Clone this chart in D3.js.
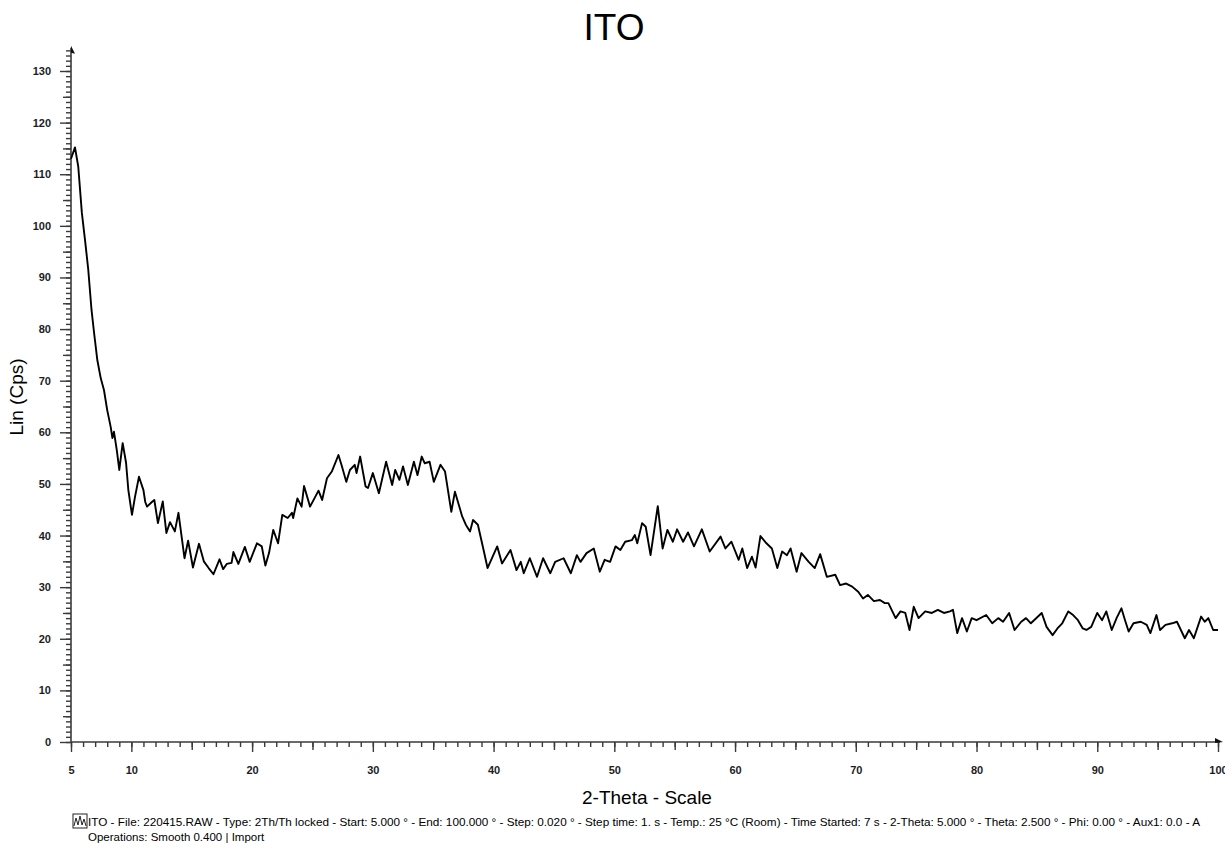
<!DOCTYPE html>
<html>
<head>
<meta charset="utf-8">
<script src="https://cdn.jsdelivr.net/npm/d3@7"></script>
<style>
  body { margin: 0; background: #fff; }
  svg { display: block; font-family: 'Liberation Sans', Arial, sans-serif; }
</style>
</head>
<body>
<svg width="1225" height="843"></svg>
<script>
// diffraction scan
const twoTheta = [
  5.0, 5.33, 5.6, 5.9, 6.16, 6.43, 6.7, 6.93, 7.18, 7.46, 7.73, 8.0, 8.29, 8.43, 8.56, 8.79,
  9.0, 9.28, 9.56, 9.75, 10.05, 10.3, 10.63, 11.0, 11.15, 11.3, 11.7, 11.9, 12.2, 12.6, 12.9,
  13.2, 13.6, 13.9, 14.4, 14.7, 15.1, 15.6, 16.0, 16.4, 16.8, 17.3, 17.6, 17.9, 18.3, 18.45,
  18.86, 19.4, 19.8, 20.4, 20.8, 21.1, 21.4, 21.75, 22.15, 22.5, 22.95, 23.3, 23.4, 23.75,
  24.1, 24.3, 24.8, 25.5, 25.8, 26.2, 26.6, 27.15, 27.4, 27.8, 28.1, 28.5, 28.65, 28.95,
  29.4, 29.6, 30.0, 30.5, 31.1, 31.6, 31.85, 32.2, 32.5, 32.9, 33.4, 33.7, 34.05, 34.3,
  34.7, 35.05, 35.6, 35.98, 36.5, 36.8, 37.4, 37.7, 38.05, 38.3, 38.7, 39.2, 39.5, 40.3,
  40.7, 41.4, 41.9, 42.25, 42.5, 43.0, 43.6, 44.1, 44.7, 45.1, 45.8, 46.4, 46.9, 47.2,
  47.7, 48.3, 48.8, 49.2, 49.65, 50.1, 50.5, 50.9, 51.45, 51.7, 51.9, 52.3, 52.6, 53.0,
  53.6, 54.0, 54.4, 54.85, 55.2, 55.7, 56.1, 56.6, 57.25, 57.9, 58.8, 59.2, 59.7, 60.3,
  60.6, 61.0, 61.4, 61.7, 62.1, 62.6, 63.05, 63.5, 63.9, 64.3, 64.6, 65.1, 65.5, 66.1,
  66.6, 67.05, 67.6, 68.3, 68.7, 69.2, 69.7, 70.2, 70.6, 71.0, 71.5, 72.0, 72.4, 72.7,
  73.3, 73.7, 74.1, 74.45, 74.8, 75.2, 75.75, 76.3, 76.8, 77.3, 77.8, 78.05, 78.4, 78.8,
  79.2, 79.6, 80.0, 80.8, 81.3, 81.8, 82.2, 82.7, 83.15, 83.7, 84.1, 84.5, 85.4, 85.8,
  86.3, 86.7, 87.1, 87.6, 88.0, 88.4, 88.8, 89.1, 89.5, 90.0, 90.4, 90.75, 91.2, 91.6,
  92.0, 92.3, 92.6, 93.0, 93.6, 94.1, 94.4, 94.9, 95.2, 95.65, 96.2, 96.6, 97.25, 97.6,
  98.0, 98.6, 98.9, 99.2, 99.6, 100.0
];
const counts = [
  113.0, 115.2, 111.5, 102.5, 97.3, 91.5, 83.7, 78.9, 74.0, 70.5, 68.2, 64.3, 61.0, 58.9, 60.1, 56.6,
  52.7, 57.9, 54.1, 48.8, 44.0, 47.5, 51.4, 48.8, 46.5, 45.6, 46.5, 46.9, 42.4, 46.6, 40.5,
  42.6, 40.8, 44.4, 35.6, 39.0, 33.8, 38.4, 35.0, 33.7, 32.5, 35.4, 33.5, 34.5, 34.7, 36.8,
  34.5, 37.8, 34.9, 38.5, 37.9, 34.2, 36.6, 41.1, 38.5, 44.0, 43.4, 44.4, 43.4, 47.2,
  45.6, 49.6, 45.6, 48.7, 46.9, 51.1, 52.4, 55.6, 53.7, 50.4, 52.7, 53.7, 52.1, 55.3,
  49.5, 49.2, 52.1, 48.2, 54.3, 49.8, 52.7, 50.8, 53.4, 49.8, 54.3, 51.7, 55.3, 54.0,
  54.3, 50.4, 53.7, 52.4, 44.6, 48.5, 43.7, 42.1, 40.8, 43.0, 42.1, 36.9, 33.7, 37.9,
  34.6, 37.2, 33.3, 34.9, 32.7, 35.6, 32.0, 35.6, 32.7, 34.9, 35.6, 32.7, 36.2, 34.9,
  36.6, 37.5, 33.0, 35.3, 34.9, 37.9, 37.2, 38.8, 39.1, 40.1, 38.5, 42.4, 41.7, 36.2,
  45.7, 37.5, 41.1, 38.8, 41.2, 38.8, 40.6, 37.9, 41.2, 36.9, 39.8, 37.5, 38.8, 35.3,
  37.5, 33.7, 35.9, 33.8, 39.9, 38.5, 37.5, 33.7, 36.9, 36.2, 37.5, 33.0, 36.6, 34.9,
  33.7, 36.4, 32.0, 32.4, 30.4, 30.7, 30.1, 29.1, 27.8, 28.5, 27.3, 27.5, 26.9, 26.9,
  24.0, 25.3, 25.0, 21.7, 26.2, 24.0, 25.3, 25.0, 25.6, 25.0, 25.3, 25.6, 21.1, 24.0,
  21.4, 24.0, 23.6, 24.6, 23.0, 24.0, 23.3, 25.0, 21.7, 23.3, 24.0, 23.0, 25.0, 22.3,
  20.7, 22.0, 23.0, 25.3, 24.6, 23.6, 22.0, 21.7, 22.3, 25.0, 23.6, 25.3, 21.7, 24.0,
  25.9, 23.6, 21.4, 23.0, 23.3, 22.7, 21.1, 24.6, 21.7, 22.7, 23.0, 23.3, 20.1, 21.7,
  20.1, 24.3, 23.3, 24.0, 21.7, 21.7
];

const xMajorTicks = [5, 10, 20, 30, 40, 50, 60, 70, 80, 90, 100];
const yMajorTicks = [0, 10, 20, 30, 40, 50, 60, 70, 80, 90, 100, 110, 120, 130];

const titleText = 'ITO';
const xLabel = '2-Theta - Scale';
const yLabel = 'Lin (Cps)';
const footer1 = 'ITO - File: 220415.RAW - Type: 2Th/Th locked - Start: 5.000 \u00b0 - End: 100.000 \u00b0 - Step: 0.020 \u00b0 - Step time: 1. s - Temp.: 25 \u00b0C (Room) - Time Started: 7 s - 2-Theta: 5.000 \u00b0 - Theta: 2.500 \u00b0 - Phi: 0.00 \u00b0 - Aux1: 0.0 - A';
const footer2 = 'Operations: Smooth 0.400 | Import';

const svg = d3.select('svg');
const width  = +svg.attr('width');
const height = +svg.attr('height');

const x = d3.scaleLinear().domain([5, 100]).range([71, 1218]);
const y = d3.scaleLinear().domain([0, 130]).range([742, 71]);

const axisColor = '#3a3a3a';

// x axis: minor / medium / major ticks
const xAxisG = svg.append('g').attr('transform', `translate(0,${y(0)})`);
xAxisG.append('g').call(d3.axisBottom(x).tickValues(d3.range(5, 101, 1)).tickSize(5).tickFormat(''));
xAxisG.append('g').call(d3.axisBottom(x).tickValues(d3.range(15, 100, 10)).tickSize(8).tickFormat(''));
xAxisG.append('g').call(d3.axisBottom(x).tickValues(xMajorTicks).tickSize(10).tickPadding(14).tickFormat(d3.format('d')));
xAxisG.selectAll('.domain').remove();
xAxisG.selectAll('.tick line').attr('stroke', axisColor).attr('stroke-width', 1.4);
xAxisG.selectAll('text')
  .style('font-size', '11px').style('font-weight', 'bold').attr('fill', '#1c1c24');

// y axis
const yAxisG = svg.append('g').attr('transform', `translate(${x(5)},0)`);
yAxisG.append('g').call(d3.axisLeft(y).tickValues(d3.range(0, 135, 1)).tickSize(5).tickFormat(''));
yAxisG.append('g').call(d3.axisLeft(y).tickValues(d3.range(5, 135, 10)).tickSize(8).tickFormat(''));
yAxisG.append('g').call(d3.axisLeft(y).tickValues(yMajorTicks).tickSize(11).tickPadding(9).tickFormat(d3.format('d')));
yAxisG.selectAll('.domain').remove();
yAxisG.selectAll('.tick line').attr('stroke', axisColor).attr('stroke-width', 1.4);
yAxisG.selectAll('text')
  .style('font-size', '11px').style('font-weight', 'bold').attr('fill', '#1c1c24');

// axis lines with arrow heads
svg.append('line')
  .attr('x1', x(5)).attr('x2', x(100) + 2)
  .attr('y1', y(0)).attr('y2', y(0))
  .attr('stroke', axisColor).attr('stroke-width', 1.6);
svg.append('path')
  .attr('d', `M${x(100) - 3},${y(0) - 4} L${x(100) + 5},${y(0)} L${x(100) - 3},${y(0) + 1} Z`)
  .attr('fill', '#111');
svg.append('line')
  .attr('x1', x(5)).attr('x2', x(5))
  .attr('y1', y(0)).attr('y2', y(134.5))
  .attr('stroke', axisColor).attr('stroke-width', 1.6);
svg.append('path')
  .attr('d', `M${x(5)},${y(134.5) - 2} L${x(5) + 4},${y(134.5) + 6} L${x(5)},${y(134.5) + 5} Z`)
  .attr('fill', '#111');

// the scan
const scan = twoTheta.map((t, i) => ({ t: t, c: counts[i] }));
svg.append('path')
  .datum(scan)
  .attr('fill', 'none')
  .attr('stroke', '#000')
  .attr('stroke-width', 1.9)
  .attr('stroke-linejoin', 'round')
  .attr('d', d3.line().x(d => x(d.t)).y(d => y(d.c)));

// titles
svg.append('text')
  .attr('x', 614).attr('y', 40)
  .attr('text-anchor', 'middle')
  .style('font-size', '37px')
  .text(titleText);

svg.append('text')
  .attr('x', 647).attr('y', 804)
  .attr('text-anchor', 'middle')
  .style('font-size', '19px')
  .text(xLabel);

svg.append('text')
  .attr('transform', 'translate(23,397) rotate(-90)')
  .attr('text-anchor', 'middle')
  .style('font-size', '19px')
  .text(yLabel);

// footer with scan icon
const icon = svg.append('g').attr('transform', 'translate(73,814)');
icon.append('rect').attr('width', 14).attr('height', 14)
  .attr('fill', 'none').attr('stroke', '#222').attr('stroke-width', 1);
icon.append('polyline')
  .attr('points', '1,12 3,4 5,11 7,2 9,11 11,5 13,12')
  .attr('fill', 'none').attr('stroke', '#222').attr('stroke-width', 1);

svg.append('text')
  .attr('x', 88).attr('y', 826)
  .attr('textLength', 1112).attr('lengthAdjust', 'spacingAndGlyphs')
  .style('font-size', '11.5px')
  .text(footer1);
svg.append('text')
  .attr('x', 88).attr('y', 841)
  .style('font-size', '11.5px')
  .text(footer2);
</script>
</body>
</html>
